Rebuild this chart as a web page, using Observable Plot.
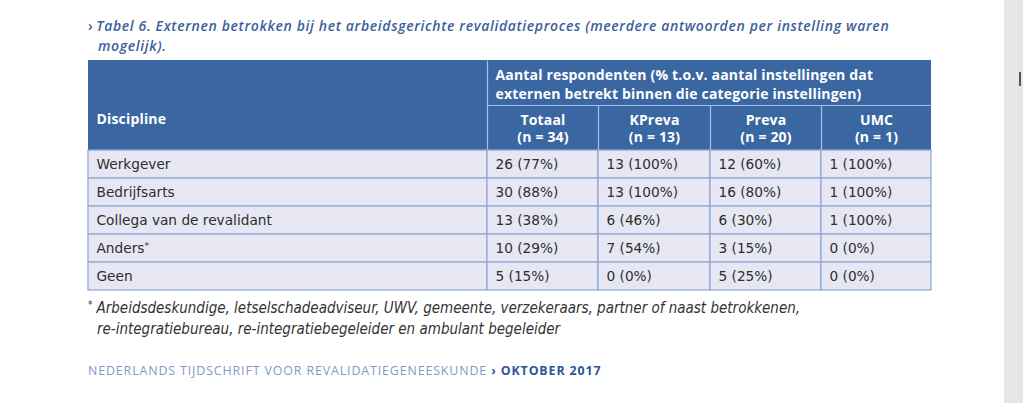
<!DOCTYPE html>
<html>
<head>
<meta charset="utf-8">
<script src="https://cdn.jsdelivr.net/npm/d3@7"></script>
<script src="https://cdn.jsdelivr.net/npm/@observablehq/plot@0.6"></script>
<style>
  html, body { margin: 0; padding: 0; background: #ffffff; }
  #page { position: relative; width: 1023px; height: 403px; overflow: hidden; background: #ffffff; }
  #strip { position: absolute; left: 1004px; top: 0; width: 19px; height: 403px; background: #e6e6e6; }
  #knob { position: absolute; left: 1019px; top: 72px; width: 2px; height: 14px; background: #555; }
  #title { position: absolute; left: 88px; top: 16px; width: 900px; font-family: "Open Sans", sans-serif; font-style: italic; font-weight: 600; font-size: 14px; letter-spacing: 0.64px; line-height: 20px; color: #3d5f9c; white-space: nowrap; }
  #title .chev { font-style: normal; margin-right: 3px; }
  #title .l2 { padding-left: 10px; }
  #note { position: absolute; left: 88px; top: 294px; width: 800px; font-family: "Liberation Sans Narrow", "DejaVu Sans Condensed", sans-serif; font-style: italic; font-size: 15px; line-height: 21px; color: #333; white-space: nowrap; }
  #note sup { font-size: 10px; vertical-align: 5px; margin-right: 4px; }
  #note .l2 { padding-left: 9px; }
  #foot { position: absolute; left: 88px; top: 362px; font-family: "Open Sans", sans-serif; font-size: 12.4px; letter-spacing: 0.88px; color: #7d9ac6; white-space: nowrap; }
  #foot b { color: #2d5597; font-weight: 700; }
  #chart { position: absolute; left: 0; top: 0; }
</style>
</head>
<body>
<div id="page">
  <div id="strip"></div>
  <div id="knob"></div>
  <div id="chart"></div>
  <div id="title"><div><span class="chev">›</span>Tabel 6. Externen betrokken bij het arbeidsgerichte revalidatieproces (meerdere antwoorden per instelling waren</div><div class="l2">mogelijk).</div></div>
  <div id="note"><div><sup>*</sup>Arbeidsdeskundige, letselschadeadviseur, UWV, gemeente, verzekeraars, partner of naast betrokkenen,</div><div class="l2">re-integratiebureau, re-integratiebegeleider en ambulant begeleider</div></div>
  <div id="foot">NEDERLANDS TIJDSCHRIFT VOOR REVALIDATIEGENEESKUNDE <b>› OKTOBER 2017</b></div>
</div>
<script>
// ---- data ----
const disciplines = ["Werkgever", "Bedrijfsarts", "Collega van de revalidant", "Anders*", "Geen"];
const groups = ["Totaal", "KPreva", "Preva", "UMC"];
const groupN = [34, 13, 20, 1];
const totaalCount = [26, 30, 13, 10, 5];
const totaalPct   = [77, 88, 38, 29, 15];
const kprevaCount = [13, 13, 6, 7, 0];
const kprevaPct   = [100, 100, 46, 54, 0];
const prevaCount  = [12, 16, 6, 3, 5];
const prevaPct    = [60, 80, 30, 15, 25];
const umcCount    = [1, 1, 1, 0, 0];
const umcPct      = [100, 100, 100, 0, 0];
const firstHeader = "Discipline";
const groupHeader = "Aantal respondenten (% t.o.v. aantal instellingen dat\nexternen betrekt binnen die categorie instellingen)";

// ---- layout (relative units, separate from data) ----
const colWidths = [399, 111, 112, 111, 110];
const headerHeights = [45, 45];
const bodyRowHeight = 28;

const colEdges = [0];
colWidths.forEach(w => colEdges.push(colEdges[colEdges.length - 1] + w));
const totalW = colEdges[colEdges.length - 1];
const headTop = 0, headMid = headerHeights[0], headBottom = headerHeights[0] + headerHeights[1];
const rowTops = disciplines.map((_, i) => headBottom + i * bodyRowHeight);
const totalH = headBottom + disciplines.length * bodyRowHeight;

const counts = [totaalCount, kprevaCount, prevaCount, umcCount];
const pcts = [totaalPct, kprevaPct, prevaPct, umcPct];

// body cells
const bodyCells = [];
disciplines.forEach((d, r) => {
  const y1 = rowTops[r], y2 = rowTops[r] + bodyRowHeight;
  bodyCells.push({x1: colEdges[0], x2: colEdges[1], y1, y2, text: d});
  groups.forEach((g, c) => {
    bodyCells.push({x1: colEdges[c + 1], x2: colEdges[c + 2], y1, y2,
      text: `${counts[c][r]} (${pcts[c][r]}%)`});
  });
});

// header cells
const subHeads = groups.map((g, c) => ({
  x1: colEdges[c + 1], x2: colEdges[c + 2], y1: headMid, y2: headBottom,
  text: `${g}\n(n = ${groupN[c]})`
}));
const headerLines = [
  {x1: colEdges[1], x2: colEdges[1], y1: headTop, y2: headBottom},
  {x1: colEdges[1], x2: totalW, y1: headMid, y2: headMid},
  ...groups.slice(1).map((g, i) => ({x1: colEdges[i + 2], x2: colEdges[i + 2], y1: headMid, y2: headBottom}))
];

const headFont = "'Open Sans', sans-serif";
const bodyFont = "'DejaVu Sans', sans-serif";

const chart = Plot.plot({
  width: 1023,
  height: 403,
  marginLeft: 88,
  marginRight: 92,
  marginTop: 60,
  marginBottom: 113,
  style: {fontFamily: headFont, background: "transparent", overflow: "visible"},
  x: {type: "linear", domain: [0, totalW], axis: null},
  y: {type: "linear", domain: [0, totalH], reverse: true, axis: null},
  marks: [
    // header background
    Plot.rect([{x1: 0, x2: totalW, y1: headTop, y2: headBottom}], {x1: "x1", x2: "x2", y1: "y1", y2: "y2", fill: "#3a67a2", inset: 0}),
    // header separators
    Plot.link(headerLines, {x1: "x1", x2: "x2", y1: "y1", y2: "y2", stroke: "#a9c0e6", strokeWidth: 1.2}),
    // body cells
    Plot.rect(bodyCells, {x1: "x1", x2: "x2", y1: "y1", y2: "y2", fill: "#e7e7f3", stroke: "#8ca6d2", strokeWidth: 1.2, inset: 0}),
    // header text
    Plot.text([firstHeader], {x: colEdges[0], y: headMid + headerHeights[1] / 2, text: d => d, textAnchor: "start", dx: 8, dy: -8.5, fill: "white", fontWeight: 700, fontSize: 14, className: "hd"}),
    Plot.text([groupHeader], {x: colEdges[1], y: headMid / 2, text: d => d, textAnchor: "start", dx: 8, fill: "white", fontWeight: 700, fontSize: 14, lineHeight: 1.36, className: "hd"}),
    Plot.text(subHeads, {x: d => (d.x1 + d.x2) / 2, y: d => (d.y1 + d.y2) / 2, text: "text", textAnchor: "middle", fill: "white", fontWeight: 700, fontSize: 14, lineHeight: 1.22, className: "hd"}),
    // body text
    Plot.text(bodyCells, {x: "x1", y: d => (d.y1 + d.y2) / 2, text: "text", textAnchor: "start", dx: 8, fill: "#2e2e2e", fontSize: 13.7, fontFamily: bodyFont, className: "bd"})
  ]
});
// header letter-spacing
d3.select(chart).selectAll("g.hd text").style("letter-spacing", "0.17px");
// superscript footnote marker
d3.select(chart).selectAll("text").each(function () {
  const t = d3.select(this);
  if (this.childElementCount === 0 && this.textContent.endsWith("*")) {
    const base = this.textContent.slice(0, -1);
    t.text(base);
    t.append("tspan").attr("dy", "-0.45em").attr("font-size", "9px").text("*");
  }
});
document.getElementById("chart").appendChild(chart);
</script>
</body>
</html>
